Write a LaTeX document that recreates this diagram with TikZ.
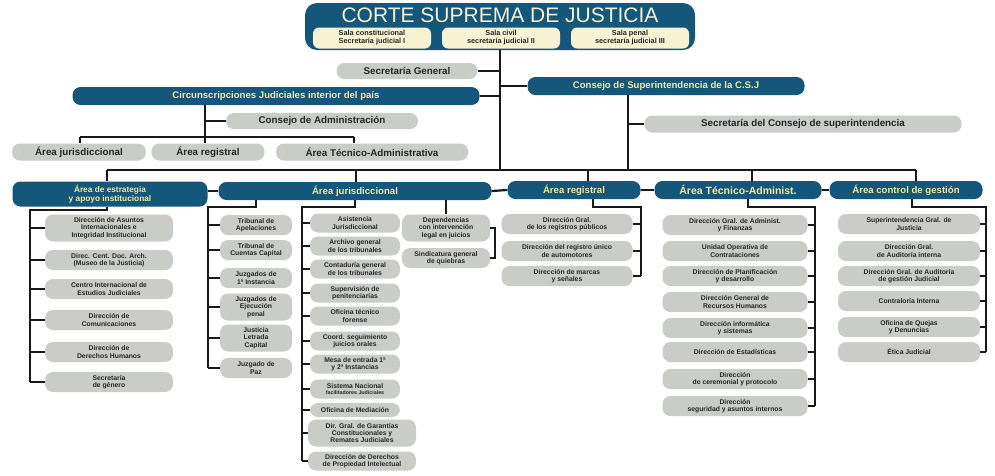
\documentclass[tikz,border=0pt]{standalone}
\usepackage{fontspec}
\setmainfont{Liberation Sans}
\definecolor{csjblue}{HTML}{14577A}
\definecolor{csjyellow}{HTML}{F2EC9C}
\definecolor{salacream}{HTML}{F6F2D2}
\definecolor{unitgray}{HTML}{C9CCC7}
\tikzset{
  head/.style={fill=csjblue, text=csjyellow, rounded corners=8pt, align=center, inner sep=1pt,
    font=\bfseries\fontsize{9.6}{10}\selectfont},
  sala/.style={fill=salacream, text=black!85, rounded corners=6pt, align=center, inner sep=1pt,
    minimum width=118pt, minimum height=21pt, font=\bfseries\fontsize{7.3}{8}\selectfont},
  mid/.style={fill=unitgray, text=black!85, rounded corners=8pt, align=center, inner sep=1pt,
    minimum height=17pt, font=\bfseries\fontsize{9.8}{10}\selectfont},
  unit/.style={fill=unitgray, text=black!85, rounded corners=8pt, align=center, inner sep=1pt,
    minimum height=20pt, font=\bfseries\fontsize{6.8}{7.3}\selectfont},
  wd/.style={minimum width=#1},
  ht/.style={minimum height=#1},
  link/.style={line width=2.2pt, black!90}
}
\begin{document}
\begin{tikzpicture}[x=1pt,y=-1pt]
\useasboundingbox (0,0) rectangle (995,475);

% cabeza
\node[fill=csjblue, rounded corners=12pt, minimum width=390pt, minimum height=47pt] (csj) at (500,26.5) {};
\node[text=salacream, font=\fontsize{21}{22}\selectfont, inner sep=0] (title) at (500,15) {CORTE SUPREMA DE JUSTICIA};
\node[sala] (sala1) at (372,38) {Sala constitucional\\Secretaría judicial I};
\node[sala] (sala2) at (501,38) {Sala civil\\secretaría judicial II};
\node[sala] (sala3) at (630,38) {Sala penal\\secretaría judicial III};

\node[mid, wd=141pt, ht=16pt] (sg) at (407,71) {Secretaría General};
\node[head, wd=277pt, minimum height=18pt] (consup) at (666,86) {Consejo de Superintendencia de la C.S.J};
\node[head, wd=407pt, minimum height=18pt] (circ) at (276,96) {Circunscripciones Judiciales interior del país};
\node[mid, wd=192pt, ht=16pt] (cadm) at (322,121) {Consejo de Administración};
\node[mid, wd=134pt] (ajur) at (79,152) {Área jurisdiccional};
\node[mid, wd=113pt] (areg) at (208,152) {Área registral};
\node[mid, wd=192pt] (atec) at (372,152) {Área Técnico-Administrativa};
\node[mid, wd=317pt] (secsup) at (803,124) {Secretaría del Consejo de superintendencia};

% areas
\node[head, wd=195pt, minimum height=25pt, font=\bfseries\fontsize{8.3}{9}\selectfont] (estr) at (110,194) {Área de estrategia\\y apoyo institucional};
\node[head, wd=273pt, minimum height=18pt] (hjur) at (355,191) {Área jurisdiccional};
\node[head, wd=133pt, minimum height=18pt] (hreg) at (574,190) {Área registral};
\node[head, wd=167pt, minimum height=18pt, font=\bfseries\fontsize{10.5}{11}\selectfont] (htec) at (738,190) {Área Técnico-Administ.};
\node[head, wd=153pt, minimum height=18pt] (hctl) at (906,190) {Área control de gestión};

% estrategia
\node[unit, wd=128pt, ht=27pt] (e1) at (109,228) {Dirección de Asuntos\\Internacionales e\\Integridad Institucional};
\node[unit, wd=128pt] (e2) at (109,260) {Direc. Cent. Doc. Arch.\\(Museo de la Justicia)};
\node[unit, wd=128pt] (e3) at (109,289) {Centro Internacional de\\Estudios Judiciales};
\node[unit, wd=128pt] (e4) at (109,320) {Dirección de\\Comunicaciones};
\node[unit, wd=128pt] (e5) at (109,352) {Dirección de\\Derechos Humanos};
\node[unit, wd=128pt] (e6) at (109,382) {Secretaría\\de género};

% jurisdiccional
\node[unit, wd=72pt] (a1) at (256,225) {Tribunal de\\Apelaciones};
\node[unit, wd=72pt] (a2) at (256,250) {Tribunal de\\Cuentas Capital};
\node[unit, wd=72pt] (a3) at (256,278) {Juzgados de\\1ª Instancia};
\node[unit, wd=72pt, ht=27pt] (a4) at (256,307) {Juzgados de\\Ejecución\\penal};
\node[unit, wd=72pt, ht=27pt] (a5) at (256,338) {Justicia\\Letrada\\Capital};
\node[unit, wd=72pt] (a6) at (256,368) {Juzgado de\\Paz};
\node[unit, wd=90pt, ht=19pt] (b1) at (355,223) {Asistencia\\Jurisdiccional};
\node[unit, wd=90pt, ht=19pt] (b2) at (355,246) {Archivo general\\de los tribunales};
\node[unit, wd=90pt, ht=19pt] (b3) at (355,269) {Contaduría general\\de los tribunales};
\node[unit, wd=90pt, ht=19pt] (b4) at (355,293) {Supervisión de\\penitenciarías};
\node[unit, wd=90pt, ht=19pt] (b5) at (355,316) {Oficina técnico\\forense};
\node[unit, wd=90pt, ht=19pt] (b6) at (355,341) {Coord. seguimiento\\juicios orales};
\node[unit, wd=90pt, ht=19pt] (b7) at (355,364) {Mesa de entrada 1ª\\y 2ª Instancias};
\node[unit, wd=90pt, ht=19pt, font=\bfseries\fontsize{5.3}{6.5}\selectfont] (b8) at (355,389) {\fontsize{6.8}{6.5}\selectfont Sistema Nacional\\facilitadores Judiciales};
\node[unit, wd=90pt, ht=14pt] (b9) at (355,410) {Oficina de Mediación};
\node[unit, wd=108pt, ht=27pt] (b10) at (362,433) {Dir. Gral. de Garantías\\Constitucionales y\\Remates Judiciales};
\node[unit, wd=108pt, ht=19pt] (b11) at (362,461) {Dirección de Derechos\\de Propiedad Intelectual};
\node[unit, wd=88pt, ht=27pt] (c1) at (446,228) {Dependencias\\con intervención\\legal en juicios};
\node[unit, wd=88pt, ht=20pt] (c2) at (446,258) {Sindicatura general\\de quiebras};

% registral
\node[unit, wd=131pt] (r1) at (567,224) {Dirección Gral.\\de los registros públicos};
\node[unit, wd=131pt] (r2) at (567,251) {Dirección del registro único\\de automotores};
\node[unit, wd=131pt] (r3) at (567,276) {Dirección de marcas\\y señales};

% tecnico
\node[unit, wd=145pt] (t1) at (735,225) {Dirección Gral. de Administ.\\y Finanzas};
\node[unit, wd=145pt] (t2) at (735,251) {Unidad Operativa de\\Contrataciones};
\node[unit, wd=145pt] (t3) at (735,276) {Dirección de Planificación\\y desarrollo};
\node[unit, wd=145pt] (t4) at (735,302) {Dirección General de\\Recursos Humanos};
\node[unit, wd=145pt] (t5) at (735,328) {Dirección informática\\y sistemas};
\node[unit, wd=145pt] (t6) at (735,352) {Dirección de Estadísticas};
\node[unit, wd=145pt] (t7) at (735,379) {Dirección\\de ceremonial y protocolo};
\node[unit, wd=145pt] (t8) at (735,406) {Dirección\\seguridad y asuntos internos};

% control
\node[unit, wd=142pt] (k1) at (909,224) {Superintendencia Gral. de\\Justicia};
\node[unit, wd=142pt] (k2) at (909,251) {Dirección Gral.\\de Auditoría interna};
\node[unit, wd=142pt] (k3) at (909,276) {Dirección Gral. de Auditoría\\de gestión Judicial};
\node[unit, wd=142pt] (k4) at (909,301) {Contraloría Interna};
\node[unit, wd=142pt] (k5) at (909,327) {Oficina de Quejas\\y Denuncias};
\node[unit, wd=142pt] (k6) at (909,352) {Ética Judicial};

% conectores
\coordinate (spine) at (500,170);
\coordinate (busL) at (107,170);
\coordinate (busR) at (916,170);
\coordinate (csv) at (628,170);
\coordinate (cv) at (205,137);
\coordinate (ca1) at (80,137);
\coordinate (ca3) at (354,137);
\coordinate (d2) at (356,170);
\coordinate (d3) at (588,170);
\coordinate (d4) at (752,170);
\coordinate (ev) at (30,210);
\coordinate (av) at (208,207);
\coordinate (bv) at (302,207);
\coordinate (cr) at (495,228);
\coordinate (rd) at (593,0);
\coordinate (rv) at (641,207);
\coordinate (td) at (748,0);
\coordinate (tv) at (815,207);
\coordinate (kd) at (912,0);
\coordinate (kv) at (986,207);

\begin{scope}[link]
\draw (csj.south -| spine) -- (spine);
\draw (sg.east) -- (sg.east -| spine);
\draw (circ.east) -- (circ.east -| spine);
\draw (consup.west) -- (consup.west -| spine);
\draw (csv |- consup.south) -- (csv);
\draw (secsup.west) -- (secsup.west -| csv);
\draw (cv |- circ.south) -- (cv);
\draw (cadm.west) -- (cadm.west -| cv);
\draw (ca1) -- (ca3);
\draw (ca1) -- (ca1 |- ajur.north);
\draw (cv) -- (cv |- areg.north);
\draw (ca3) -- (ca3 |- atec.north);
\draw (busL) -- (busR);
\draw (busL) -- (busL |- estr.north);
\draw (d2) -- (d2 |- hjur.north);
\draw (d3) -- (d3 |- hreg.north);
\draw (d4) -- (d4 |- htec.north);
\draw (busR) -- (busR |- hctl.north);
\draw (hjur.west) -- (hjur.west -| estr.east);
\draw (hjur.east) -- (hreg.west);
\draw (hreg.east) -- (htec.west);
\draw (htec.east) -- (hctl.west);

\draw (estr.south -| busL) |- (ev) -- (ev |- e6.west);
\foreach \n in {e1,e2,e3,e4,e5,e6} \draw (\n.west) -- (\n.west -| ev);
\draw (hjur.south -| a1) |- (av) -- (av |- a6.west);
\foreach \n in {a1,a2,a3,a4,a5,a6} \draw (\n.west) -- (\n.west -| av);
\draw (hjur.south) |- (bv) -- (bv |- b11.west);
\foreach \n in {b1,b2,b3,b4,b5,b6,b7,b8,b9,b10,b11} \draw (\n.west) -- (\n.west -| bv);
\draw (c1.north) -- (c1.north |- hjur.south);
\draw (c1.east) -- (c1.east -| cr) -- (c2.east -| cr) -- (c2.east);
\draw (hreg.south -| rd) |- (rv) -- (rv |- r3.east);
\foreach \n in {r1,r2,r3} \draw (\n.east) -- (\n.east -| rv);
\draw (htec.south -| td) |- (tv) -- (tv |- t8.east);
\foreach \n in {t1,t2,t3,t4,t5,t6,t7,t8} \draw (\n.east) -- (\n.east -| tv);
\draw (hctl.south -| kd) |- (kv) -- (kv |- k6.east);
\foreach \n in {k1,k2,k3,k4,k5,k6} \draw (\n.east) -- (\n.east -| kv);
\end{scope}
\end{tikzpicture}
\end{document}
